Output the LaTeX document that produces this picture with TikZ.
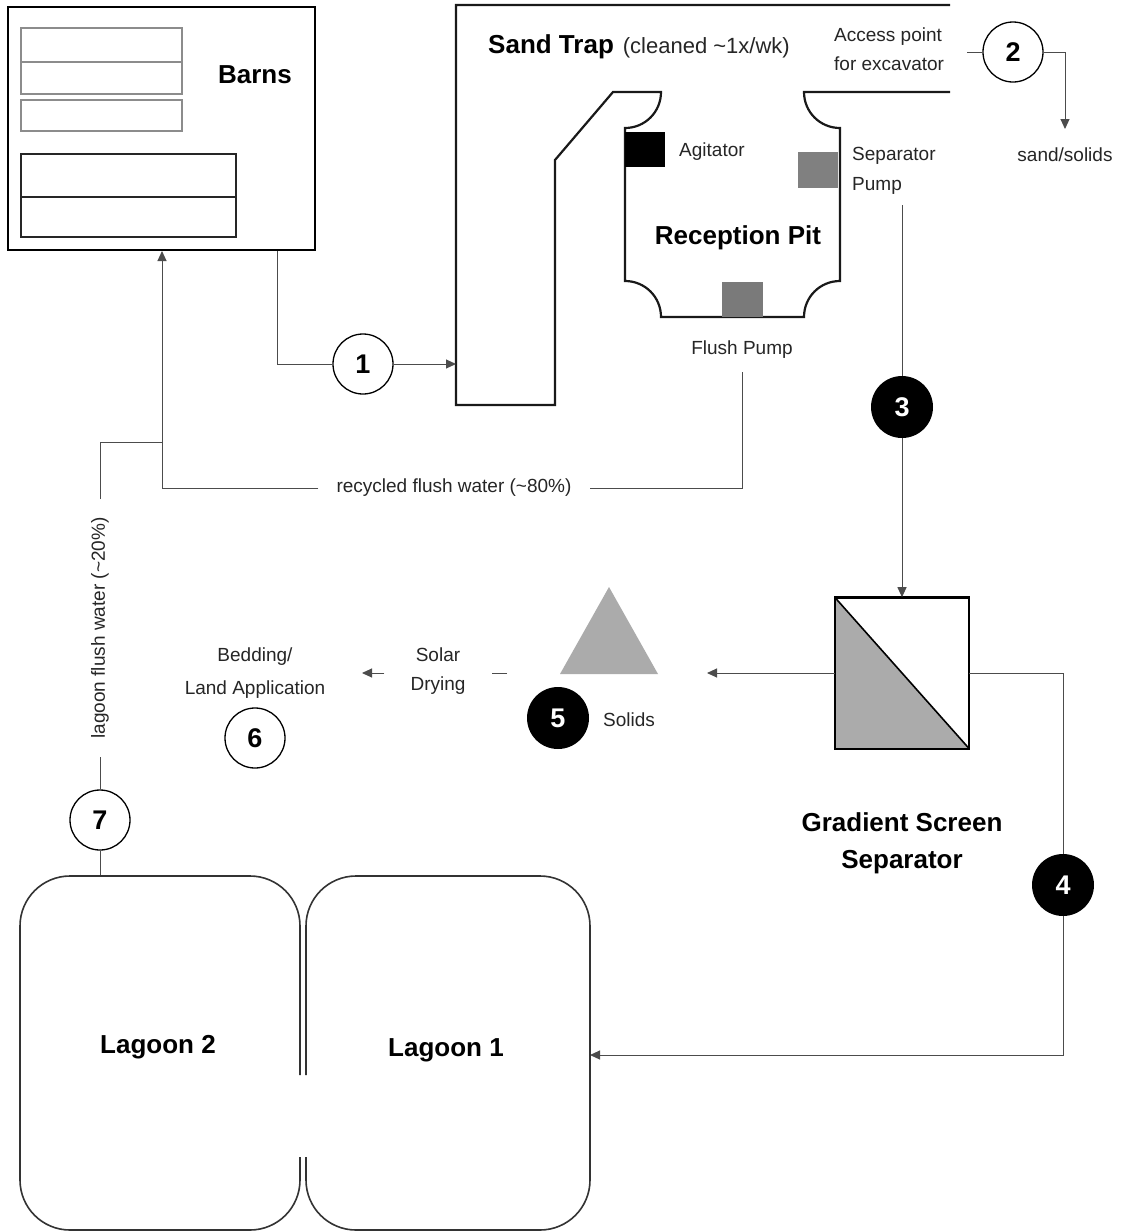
\documentclass[tikz,border=0pt]{standalone}
\usepackage{fontspec}
\setmainfont{Liberation Sans}
\usetikzlibrary{arrows.meta}
\begin{document}
\begin{tikzpicture}[x=1pt,y=-1pt,
  lbl/.style={font=\fontsize{19}{29}\selectfont, text=black!85, inner sep=0pt},
  blbl/.style={font=\bfseries\fontsize{26}{37}\selectfont, inner sep=0pt},
  wnum/.style={circle, draw, line width=1.3pt, minimum size=60pt, inner sep=0pt, fill=white, font=\bfseries\fontsize{27}{27}\selectfont},
  bnum/.style={circle, fill=black, text=white, minimum size=62pt, inner sep=0pt, font=\bfseries\fontsize{27}{27}\selectfont},
  conn/.style={line width=1pt, draw=black!70},
  arr/.style={conn, -{Triangle[length=10pt,width=9pt]}},
  wall/.style={line width=2.2pt, draw=black!90},
  thinbox/.style={draw=black!45, line width=1.2pt},
]
\fill[white] (0,0) rectangle (1124,1232);
\useasboundingbox (0,0) rectangle (1124,1232);

% ---------- Barns ----------
\node[draw, line width=2.5pt, minimum width=307pt, minimum height=243pt, inner sep=0pt] (barns) at (161.5,128.5) {};
\draw[thinbox] (21,28) rectangle (182,62);
\draw[thinbox] (21,62) rectangle (182,94);
\draw[thinbox] (21,100) rectangle (182,131);
\draw[line width=1.6pt, draw=black!85] (21,154) rectangle (236,237);
\draw[line width=1.6pt, draw=black!85] (21,197) -- (236,197);
\node[blbl] (barnslbl) at (255,75) {Barns};

% ---------- Sand trap and reception pit ----------
\draw[wall] (950,5) -- (456,5) -- (456,405) -- (555,405) -- (555,160) -- (613,92) -- (661,92)
  .. controls (661,112) and (645,128) .. (625,128) -- (625,281)
  .. controls (645,281) and (661,297) .. (661,317) -- (804,317)
  .. controls (804,297) and (820,281) .. (840,281) -- (840,128)
  .. controls (820,128) and (804,112) .. (804,92) -- (950,92);
\coordinate (trapin) at (456,364);

\fill[black] (625,132) rectangle (665,167);
\fill[black!50] (798,152) rectangle (838,188);
\fill[black!52] (722,282) rectangle (763,317);

\node[anchor=west, inner sep=0pt] (traplbl) at (488,47) {{\bfseries\fontsize{26}{30}\selectfont Sand Trap}\hspace{9pt}{\fontsize{22}{24}\selectfont\color{black!85}(cleaned \textasciitilde1x/wk)}};
\node[lbl, anchor=west, align=left] (access) at (834,49) {Access point\\for excavator};
\node[lbl, anchor=west] (agit) at (679,152) {Agitator};
\node[lbl, anchor=west, align=left, font=\fontsize{19}{30}\selectfont] (seppump) at (852,171) {Separator\\Pump};
\node[blbl] (pit) at (738,238) {Reception Pit};
\node[lbl] (flush) at (742,350) {Flush Pump};

% ---------- circle 2 ----------
\node[wnum] (c2) at (1013,52) {2};
\coordinate (accend) at (967,52);
\node[lbl] (sand) at (1065,155) {sand/solids};
\coordinate (sandtip) at (1065,129);
\draw[conn] (accend) -- (c2.west);
\draw[arr] (c2.east) -| (sandtip);

% ---------- circle 1 ----------
\node[wnum] (c1) at (363,364) {1};
\coordinate (barnsout) at (277,251);
\draw[conn] (barnsout) |- (c1.west);
\draw[arr] (c1.east) -- (trapin);

% ---------- recycled flush water ----------
\coordinate (flushout) at (742,372);
\coordinate (barnsin) at (162,251);
\node[lbl, inner xsep=18pt, inner ysep=0pt] (rec) at (454,488) {recycled flush water (\textasciitilde80\%)};
\draw[conn] (flushout) |- (rec.east);
\draw[arr] (rec.west) -| (barnsin);

% ---------- lagoon flush water ----------
\node[wnum] (c7) at (100,820) {7};
\node[lbl, rotate=90, inner xsep=18pt] (lf) at (100,628) {lagoon flush water (\textasciitilde20\%)};
\coordinate (join) at (162,442);
\coordinate (lag2top) at (100,876);
\draw[conn] (c7.north) -- (lf.west);
\draw[conn] (lf.east) |- (join);
\draw[conn] (c7.south) -- (lag2top);

% ---------- separator pump line, circle 3 ----------
\coordinate (seppout) at (902,205);
\node[bnum] (c3) at (902,407) {3};
\node[draw, line width=1.6pt, minimum width=133pt, minimum height=150pt, inner sep=0pt] (screen) at (902,673) {};
\fill[black!33] (screen.north west) -- (screen.south east) -- (screen.south west) -- cycle;
\draw[line width=1.6pt] (screen.north west) rectangle (screen.south east);
\draw[line width=1.6pt] (screen.north west) -- (screen.south east);
\draw[conn] (seppout) -- (c3.north);
\draw[arr] (c3.south) -- (screen.north);
\node[blbl, align=center] (screenlbl) at (902,843) {Gradient Screen\\Separator};

% ---------- circle 4 and Lagoon 1 feed ----------
\node[bnum] (c4) at (1063,885) {4};
\coordinate (lag1in) at (590,1055);
\draw[conn] (screen.east) -| (c4.north);
\draw[arr] (c4.south) |- (lag1in);

% ---------- solids ----------
\coordinate (solidtip) at (707,673);
\draw[arr] (screen.west) -- (solidtip);
\fill[black!33] (609,587) -- (658,674) -- (560,674) -- cycle;
\node[bnum] (c5) at (558,718) {5};
\node[lbl, anchor=west] (solids) at (603,720) {Solids};

\node[lbl, align=center, inner xsep=26pt] (solar) at (438,671) {Solar\\Drying};
\coordinate (dryin) at (507,673);
\coordinate (bedtip) at (362,673);
\draw[conn] (dryin) -- (solar.east |- dryin);
\draw[arr] (solar.west |- dryin) -- (bedtip);
\node[lbl, align=center, font=\fontsize{19}{33}\selectfont] (bed) at (255,673) {Bedding/\\Land Application};
\node[wnum] (c6) at (255,738) {6};

% ---------- lagoons ----------
\draw[line width=1.6pt, draw=black!80, rounded corners=50pt]
  (300,1075) -- (300,876) -- (20,876) -- (20,1230) -- (300,1230) -- (300,1157);
\draw[line width=1.6pt, draw=black!80, rounded corners=50pt]
  (306,1075) -- (306,876) -- (590,876) -- (590,1230) -- (306,1230) -- (306,1157);
\node[blbl] (lag2) at (158,1047) {Lagoon 2};
\node[blbl] (lag1) at (446,1050) {Lagoon 1};
\end{tikzpicture}
\end{document}
